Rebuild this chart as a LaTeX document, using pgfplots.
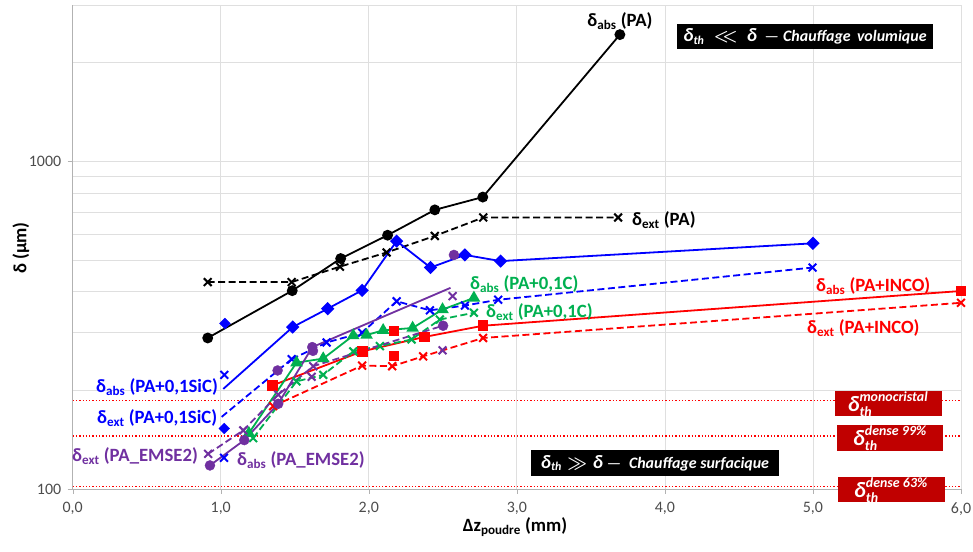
\documentclass[border=0pt]{standalone}
\usepackage{pgfplots}
\pgfplotsset{compat=1.18}
\usepackage{fontspec}
\setmainfont{Carlito}
\definecolor{cblack}{RGB}{0,0,0}
\definecolor{cblue}{RGB}{0,0,255}
\definecolor{cpurple}{RGB}{112,48,160}
\definecolor{cgreen}{RGB}{0,176,80}
\definecolor{cred}{RGB}{255,0,0}
\definecolor{cdred}{RGB}{192,0,0}
\newcommand{\lab}{\fontsize{18.8}{21}\selectfont\bfseries}
\newcommand{\bi}[1]{\mbox{\bfseries\itshape #1}}
\newcommand{\sz}[1]{\fontsize{#1}{#1}\selectfont}
\newsavebox{\volbox}
\newsavebox{\surbox}
\newsavebox{\monobox}
\newsavebox{\dnnbox}
\newsavebox{\dsxbox}
\pgfplotsset{
  dsh/.style={dash pattern=on 7bp off 3.5bp},
  xm/.style={mark=x, mark size=5.5bp, mark options={solid, line width=2bp}},
  dm/.style={mark=square*, mark size=3.8bp, mark options={solid, rotate=45}},
}
\begin{document}
\sbox{\volbox}{\color{white}\sz{16}\boldmath $\bi{\sz{19}δ}_{\bi{\sz{12}th}}\ \mathrel{<\!\!<}\ \bi{\sz{19}δ}\ \ -\ $\bi{Chauffage\, volumique}}%
\sbox{\surbox}{\color{white}\sz{16}\boldmath $\bi{\sz{19}δ}_{\bi{\sz{12}th}}\gg\bi{\sz{19}δ}\ -\ $\ \bi{Chauffage surfacique}}%
\sbox{\monobox}{\color{white}\sz{17}$\bi{\sz{22}δ}^{\bi{\sz{14}monocristal}}_{\bi{\sz{14}th}}$}%
\sbox{\dnnbox}{\color{white}\sz{17}$\bi{\sz{22}δ}^{\bi{\sz{14}dense 99\%}}_{\bi{\sz{14}th}}$}%
\sbox{\dsxbox}{\color{white}\sz{17}$\bi{\sz{22}δ}^{\bi{\sz{14}dense 63\%}}_{\bi{\sz{14}th}}$}%
\begin{tikzpicture}
\useasboundingbox (0,0) rectangle (973bp,552bp);
\begin{axis}[
  at={(72.7bp,63bp)}, anchor=south west,
  scale only axis, width=888.3bp, height=484bp,
  xmin=0, xmax=6, ymin=100, ymax=3000, ymode=log,
  clip=false,
  axis lines=left, axis line style={-, draw=gray!60, line width=0.8bp},
  xtick={0,1,2,3,4,5,6},
  xticklabels={{0,0},{1,0},{2,0},{3,0},{4,0},{5,0},{6,0}},
  ytick={100,1000}, yticklabels={100,1000},
  minor ytick={200,300,400,500,600,700,800,900,2000,3000},
  grid=both,
  major grid style={draw=gray!25, line width=0.8bp},
  minor grid style={draw=gray!25, line width=0.8bp},
  tick align=outside, major tick length=5bp, minor tick length=0bp,
  tick style={draw=gray!60},
  ticklabel style={font=\fontsize{16}{18}\selectfont, text=black!70},
  xticklabel style={yshift=-5bp},
  yticklabel style={xshift=-3bp},
]
\addplot[cred, line width=1.3bp, dotted, forget plot] coordinates {(0,186) (6,186)};
\addplot[cred, line width=1.3bp, dotted, forget plot] coordinates {(0,145) (6,145)};
\addplot[cred, line width=1.3bp, dotted, forget plot] coordinates {(0,101.6) (6,101.6)};

\addplot[cblack, line width=1.8bp, mark=*, mark size=4.5bp] coordinates {
(0.912,289) (1.483,403) (1.810,505) (2.127,595) (2.446,711) (2.770,778) (3.696,2436)};
\addplot[cblack, line width=1.8bp, dsh, xm] coordinates {
(0.912,428) (1.479,428) (1.805,477) (2.120,527) (2.446,592) (2.773,674) (3.684,674)};

\addplot[cblue, line width=1.8bp] coordinates {(1.017,202) (1.486,312)};
\addplot[cblue, line width=1.8bp, dm] coordinates {
(1.486,312) (1.722,355) (1.955,404) (2.188,571) (2.417,474) (2.649,518) (2.890,496) (5.000,562)};
\addplot[cblue, only marks, dm] coordinates {(1.028,320) (1.024,153)};
\addplot[cblue, line width=1.8bp, dsh] coordinates {(1.006,166) (1.479,249)};
\addplot[cblue, line width=1.8bp, dsh, xm] coordinates {
(1.479,249) (1.715,280) (1.955,300) (2.188,374) (2.413,351) (2.649,363) (2.874,378) (4.997,474)};
\addplot[cblue, only marks, xm] coordinates {(1.024,223) (1.022,124.5)};

\addplot[cred, line width=1.8bp, mark=square*, mark size=4.5bp] coordinates {
(1.348,207) (1.955,263) (2.374,291) (2.772,315) (6.0,402)};
\addplot[cred, only marks, mark=square*, mark size=4.5bp] coordinates {(2.170,305) (2.165,255)};
\addplot[cred, line width=1.8bp, dsh, xm] coordinates {
(1.354,179) (1.955,238) (2.158,237) (2.367,254) (2.772,289) (6.0,370)};

\addplot[cgreen, line width=1.8bp, mark=triangle*, mark size=5.5bp] coordinates {
(1.190,148) (1.512,243) (1.692,250) (1.895,294) (1.985,295) (2.097,305) (2.296,310) (2.498,353) (2.710,383)};
\addplot[cgreen, line width=1.8bp, dsh, xm] coordinates {
(1.219,143) (1.512,213) (1.692,223) (1.895,263) (2.075,273) (2.289,286) (2.480,329) (2.710,345)};

\addplot[cpurple, line width=1.8bp] coordinates {
(0.927,118) (1.159,141) (1.388,182) (1.618,271) (2.552,411)};
\addplot[cpurple, only marks, mark=*, mark size=5bp] coordinates {
(0.927,118) (1.159,141) (1.388,182) (1.384,230) (1.618,271) (1.623,264) (2.575,518) (2.502,315)};
\addplot[cpurple, line width=1.8bp, dsh] coordinates {
(0.915,128) (1.152,151) (1.388,194) (1.625,237) (2.500,315)};
\addplot[cpurple, only marks, xm] coordinates {
(0.915,128) (1.152,151) (1.388,194) (1.625,237) (1.614,220) (2.498,265) (2.566,388)};
\end{axis}
\node[rotate=90, font=\lab] at (21bp,304bp) {δ (µm)};
\node[font=\lab] at (515bp,25bp) {Δz\textsubscript{poudre} (mm)};
\node[font=\lab, text=cblack] at (620bp,531bp) {δ\textsubscript{abs} (PA)};
\node[font=\lab, text=cblack, anchor=west, inner sep=0pt] at (632bp,332bp) {δ\textsubscript{ext} (PA)};
\node[font=\lab, text=cblue, anchor=west, inner sep=0pt] at (96bp,165bp) {δ\textsubscript{abs} (PA+0,1SiC)};
\node[font=\lab, text=cblue, anchor=west, inner sep=0pt] at (97bp,134bp) {δ\textsubscript{ext} (PA+0,1SiC)};
\node[font=\lab, text=cpurple, anchor=west, inner sep=0pt] at (72bp,96bp) {δ\textsubscript{ext} (PA\_EMSE2)};
\node[font=\lab, text=cpurple, anchor=west, inner sep=0pt] at (237bp,92bp) {δ\textsubscript{abs} (PA\_EMSE2)};
\node[font=\lab, text=cgreen, anchor=west, inner sep=0pt] at (470bp,268bp) {δ\textsubscript{abs} (PA+0,1C)};
\node[font=\lab, text=cgreen, anchor=west, inner sep=0pt] at (486bp,240bp) {δ\textsubscript{ext} (PA+0,1C)};
\node[font=\lab, text=cred, anchor=west, inner sep=0pt] at (816bp,266bp) {δ\textsubscript{abs} (PA+INCO)};
\node[font=\lab, text=cred, anchor=west, inner sep=0pt] at (807bp,224bp) {δ\textsubscript{ext} (PA+INCO)};
\fill[black] (677bp,503bp) rectangle (933bp,528bp);
\node at (805bp,515.5bp) {\usebox{\volbox}};
\fill[black] (531bp,76bp) rectangle (779bp,102bp);
\node at (655bp,89bp) {\usebox{\surbox}};
\fill[cdred] (835bp,136bp) rectangle (942bp,161bp);
\node at (888bp,148bp) {\usebox{\monobox}};
\fill[cdred] (837bp,101bp) rectangle (943bp,127bp);
\node at (890bp,114bp) {\usebox{\dnnbox}};
\fill[cdred] (838bp,50bp) rectangle (945bp,75bp);
\node at (891bp,62bp) {\usebox{\dsxbox}};
\end{tikzpicture}
\end{document}
